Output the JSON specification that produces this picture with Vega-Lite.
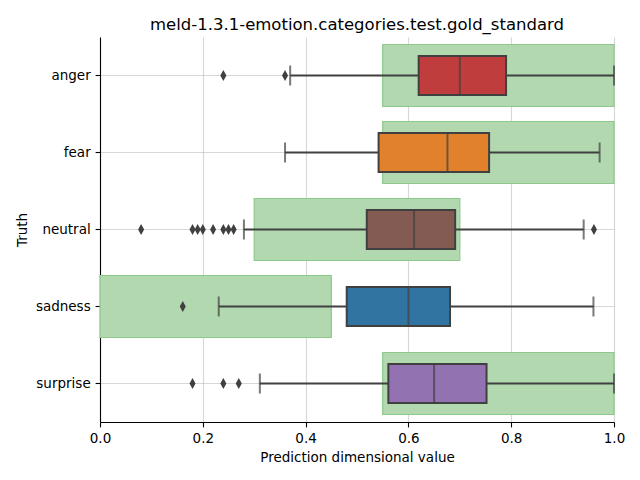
{
  "$schema": "https://vega.github.io/schema/vega-lite/v6.json",
  "width": 514,
  "height": 385,
  "autosize": {"type": "none"},
  "padding": {"left": 100, "top": 37, "right": 26, "bottom": 58},
  "background": "white",
  "title": {"text": "meld-1.3.1-emotion.categories.test.gold_standard", "font": "DejaVu Sans", "fontSize": 16.5, "fontWeight": "normal", "color": "#000000", "offset": 4},
  "config": {
    "view": {"stroke": null},
    "font": "DejaVu Sans",
    "axis": {
      "domainColor": "#000000", "domainWidth": 1.1,
      "tickColor": "#000000", "tickSize": 4.9, "tickWidth": 1.1,
      "labelFont": "DejaVu Sans", "labelFontSize": 13.5, "labelColor": "#000000", "labelPadding": 4.9,
      "labelFlush": false, "labelOverlap": false,
      "titleFont": "DejaVu Sans", "titleFontSize": 13.5, "titleFontWeight": "normal", "titleColor": "#000000",
      "grid": true, "gridColor": "#b0b0b0", "gridOpacity": 0.5, "gridWidth": 1.1,
      "zindex": 1
    }
  },
  "datasets": {
    "stats": [
      {"Truth": "anger", "lo": 0.37, "q1": 0.62, "median": 0.70, "q3": 0.79, "hi": 1.0, "gs_lo": 0.55, "gs_hi": 1.0, "color": "#c03d3e"},
      {"Truth": "fear", "lo": 0.36, "q1": 0.542, "median": 0.676, "q3": 0.757, "hi": 0.972, "gs_lo": 0.55, "gs_hi": 1.0, "color": "#e1812c"},
      {"Truth": "neutral", "lo": 0.28, "q1": 0.519, "median": 0.611, "q3": 0.691, "hi": 0.941, "gs_lo": 0.30, "gs_hi": 0.70, "color": "#845b53"},
      {"Truth": "sadness", "lo": 0.231, "q1": 0.48, "median": 0.60, "q3": 0.681, "hi": 0.96, "gs_lo": 0.0, "gs_hi": 0.45, "color": "#3274a1"},
      {"Truth": "surprise", "lo": 0.311, "q1": 0.561, "median": 0.65, "q3": 0.752, "hi": 1.0, "gs_lo": 0.55, "gs_hi": 1.0, "color": "#9372b2"}
    ],
    "outliers": [
      {"Truth": "anger", "value": 0.24},
      {"Truth": "anger", "value": 0.36},
      {"Truth": "neutral", "value": 0.08},
      {"Truth": "neutral", "value": 0.18},
      {"Truth": "neutral", "value": 0.19},
      {"Truth": "neutral", "value": 0.20},
      {"Truth": "neutral", "value": 0.22},
      {"Truth": "neutral", "value": 0.24},
      {"Truth": "neutral", "value": 0.25},
      {"Truth": "neutral", "value": 0.26},
      {"Truth": "neutral", "value": 0.961},
      {"Truth": "sadness", "value": 0.161},
      {"Truth": "surprise", "value": 0.18},
      {"Truth": "surprise", "value": 0.24},
      {"Truth": "surprise", "value": 0.27}
    ]
  },
  "encoding": {
    "y": {
      "field": "Truth", "type": "nominal",
      "sort": ["anger", "fear", "neutral", "sadness", "surprise"],
      "scale": {"paddingInner": 0, "paddingOuter": 0},
      "axis": {"title": "Truth", "titlePadding": 6}
    }
  },
  "layer": [
    {
      "data": {"name": "stats"},
      "mark": {"type": "bar", "size": 62, "fill": "#b2d8b0", "stroke": "#8ec98c", "strokeWidth": 1.2, "cornerRadius": 0},
      "encoding": {
        "x": {"field": "gs_lo", "type": "quantitative",
              "scale": {"domain": [0, 1], "nice": false, "zero": false},
              "axis": {"title": "Prediction dimensional value", "values": [0, 0.2, 0.4, 0.6, 0.8, 1.0], "format": ".1f", "titlePadding": 5}},
        "x2": {"field": "gs_hi"}
      }
    },
    {
      "data": {"name": "stats"},
      "mark": {"type": "rule", "color": "#404040", "strokeWidth": 2},
      "encoding": {
        "x": {"field": "lo", "type": "quantitative"},
        "x2": {"field": "hi"}
      }
    },
    {
      "data": {"name": "stats"},
      "mark": {"type": "tick", "color": "#404040", "size": 20, "thickness": 2, "orient": "vertical"},
      "encoding": {"x": {"field": "lo", "type": "quantitative"}}
    },
    {
      "data": {"name": "stats"},
      "mark": {"type": "tick", "color": "#404040", "size": 20, "thickness": 2, "orient": "vertical"},
      "encoding": {"x": {"field": "hi", "type": "quantitative"}}
    },
    {
      "data": {"name": "stats"},
      "mark": {"type": "bar", "size": 39, "stroke": "#404040", "strokeWidth": 2},
      "encoding": {
        "x": {"field": "q1", "type": "quantitative"},
        "x2": {"field": "q3"},
        "fill": {"field": "color", "type": "nominal", "scale": null, "legend": null}
      }
    },
    {
      "data": {"name": "stats"},
      "mark": {"type": "tick", "color": "#404040", "size": 39, "thickness": 2, "orient": "vertical"},
      "encoding": {"x": {"field": "median", "type": "quantitative"}}
    },
    {
      "data": {"name": "outliers"},
      "mark": {"type": "point", "shape": "M-0.55,0L0,-1L0.55,0L0,1Z", "filled": true, "color": "#404040", "opacity": 1, "size": 121},
      "encoding": {"x": {"field": "value", "type": "quantitative"}}
    }
  ]
}
